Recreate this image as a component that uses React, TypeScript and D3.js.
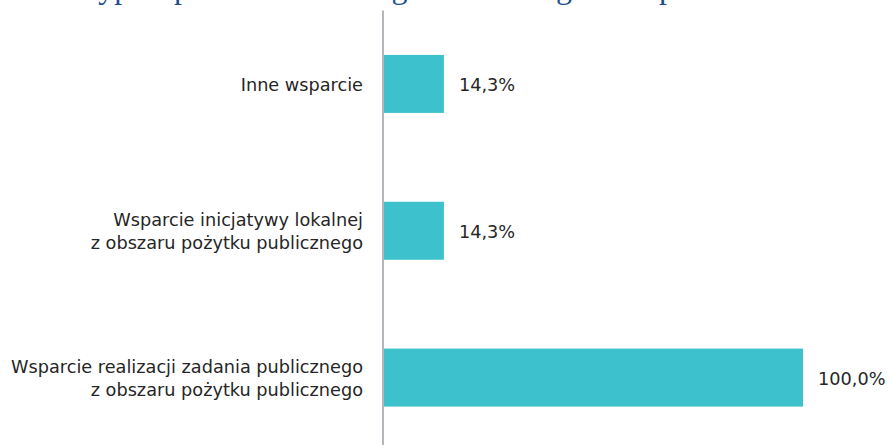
import React from "react";
import * as d3 from "d3";

const categories: string[][] = [
  ["Inne wsparcie"],
  ["Wsparcie inicjatywy lokalnej", "z obszaru pożytku publicznego"],
  ["Wsparcie realizacji zadania publicznego", "z obszaru pożytku publicznego"],
];
const values: number[] = [0.143, 0.143, 1.0];
const valueLabels: string[] = ["14,3%", "14,3%", "100,0%"];
const title = "Typ wsparcia finansowego udzielonego oraz pozostałe";

const W = 888;
const H = 445;

export default function App() {
  const keys = categories.map((c) => c.join(" "));
  const y = d3
    .scaleBand<string>()
    .domain(keys)
    .range([10.5, 451])
    .paddingInner(0.605)
    .paddingOuter(0.3025);
  const x = d3.scaleLinear().domain([0, 1]).range([384, 803]);
  const fs = 17.7;
  const lineH = 23.4;
  const font = "'DejaVu Sans', Tahoma, Verdana, sans-serif";

  return (
    <svg
      width={W}
      height={H}
      style={{ position: "absolute", left: 0, top: 0, background: "#fff" }}
    >
      <text
        x={81}
        y={-2}
        fontFamily="'Liberation Serif', 'Times New Roman', serif"
        fontSize={32}
        fill="#1F4E8C"
      >
        {title}
      </text>
      {keys.map((k, i) => {
        const c = (y(k) as number) + y.bandwidth() / 2;
        const lines = categories[i];
        const n = lines.length;
        return (
          <g key={k}>
            <rect
              x={x(0)}
              y={y(k)}
              width={x(values[i]) - x(0)}
              height={y.bandwidth()}
              fill="#3DC1CD"
            />
            {lines.map((ln, j) => (
              <text
                key={j}
                x={363}
                y={c + 7 + (j - (n - 1) / 2) * lineH}
                textAnchor="end"
                fontFamily={font}
                fontSize={fs}
                fill="#262626"
              >
                {ln}
              </text>
            ))}
            <text
              x={x(values[i]) + 15}
              y={c + 7}
              fontFamily={font}
              fontSize={fs}
              fill="#262626"
            >
              {valueLabels[i]}
            </text>
          </g>
        );
      })}
      <line
        x1={383}
        x2={383}
        y1={y.range()[0]}
        y2={y.range()[1]}
        stroke="#9C9CA4"
        strokeWidth={1.5}
      />
    </svg>
  );
}
